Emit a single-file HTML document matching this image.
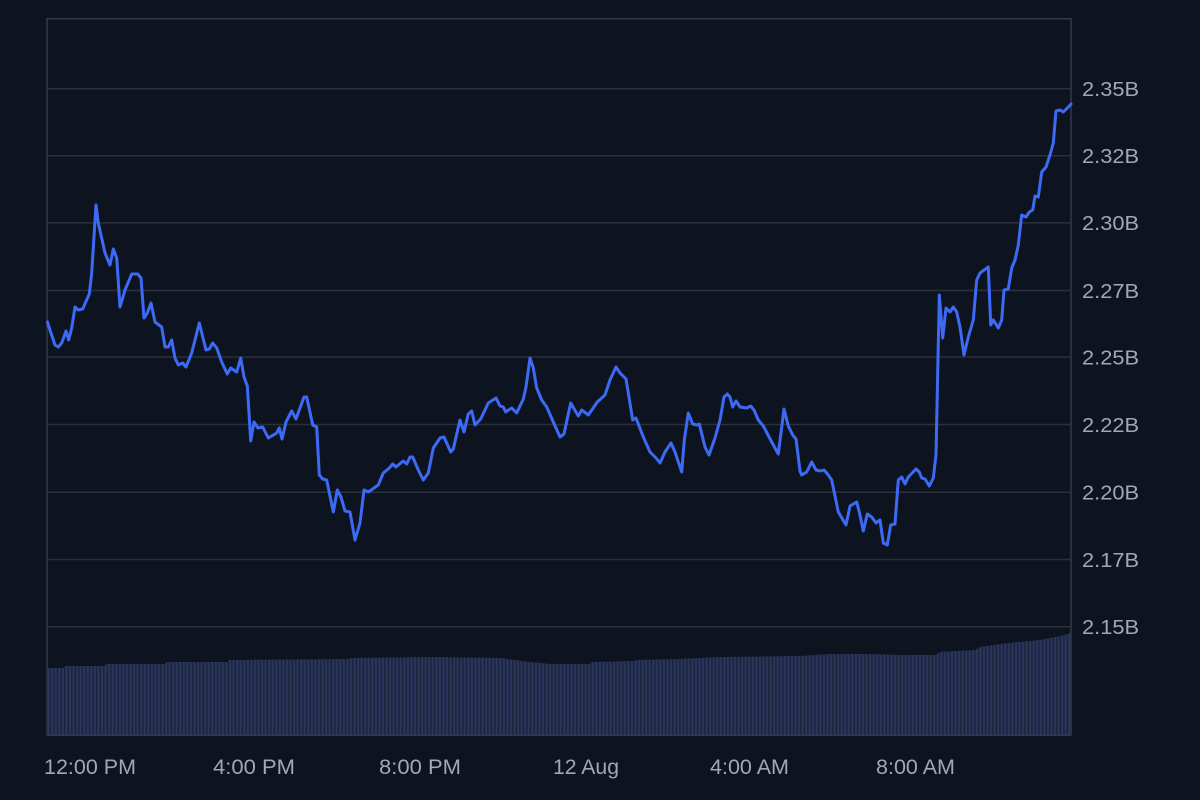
<!DOCTYPE html>
<html>
<head>
<meta charset="utf-8">
<style>
  html, body { margin:0; padding:0; background:#0d131f; }
  body { width:1200px; height:800px; overflow:hidden; }
  svg { display:block; }
  text { font-family:"Liberation Sans", Arial, sans-serif; fill:#a1a7b3; }
</style>
</head>
<body>
<svg width="1200" height="800" viewBox="0 0 1200 800" xmlns="http://www.w3.org/2000/svg">
  <defs>
    <pattern id="bars" patternUnits="userSpaceOnUse" x="47.5" y="0" width="3.556" height="800">
      <rect x="0" y="0" width="2.4" height="800" fill="#2a355c"/>
    </pattern>
  </defs>
  <rect x="0" y="0" width="1200" height="800" fill="#0d131f"/>

  <!-- gridlines -->
  <g stroke="#2a303d" stroke-width="1.5">
    <line x1="47" x2="1071" y1="88.7" y2="88.7"/>
    <line x1="47" x2="1071" y1="155.7" y2="155.7"/>
    <line x1="47" x2="1071" y1="222.9" y2="222.9"/>
    <line x1="47" x2="1071" y1="290.5" y2="290.5"/>
    <line x1="47" x2="1071" y1="357" y2="357"/>
    <line x1="47" x2="1071" y1="424.5" y2="424.5"/>
    <line x1="47" x2="1071" y1="492.3" y2="492.3"/>
    <line x1="47" x2="1071" y1="559.5" y2="559.5"/>
    <line x1="47" x2="1071" y1="626.7" y2="626.7"/>
  </g>

  <!-- volume bars -->
  <polygon fill="#182033" points="48,735 48,668 64,668 65,666 105,666 106,664 165,664 166,662 228,662 229,660 350,659 351,658 430,657 500,658 530,662 550,664 590,664 591,662 635,661 636,660 680,659 720,657 800,656 830,654 870,654 900,655 935,655 940,652 975,650 980,647 1000,644 1020,642 1040,640 1050,638 1060,636 1071,633 1071,735"/>
  <polygon fill="url(#bars)" points="48,735 48,668 64,668 65,666 105,666 106,664 165,664 166,662 228,662 229,660 350,659 351,658 430,657 500,658 530,662 550,664 590,664 591,662 635,661 636,660 680,659 720,657 800,656 830,654 870,654 900,655 935,655 940,652 975,650 980,647 1000,644 1020,642 1040,640 1050,638 1060,636 1071,633 1071,735"/>

  <!-- frame -->
  <g stroke="#333947" stroke-width="1.5" fill="none">
    <line x1="47" x2="1071" y1="18.7" y2="18.7"/>
    <line x1="47" x2="47" y1="18" y2="735.5"/>
    <line x1="1071" x2="1071" y1="18" y2="735.5"/>
    <line x1="47" x2="1071" y1="735.3" y2="735.3"/>
  </g>

  <!-- price line -->
  <polyline fill="none" stroke="#3d6af5" stroke-width="3" stroke-linejoin="round" stroke-linecap="round" points="
47.5,322 48.3,325 55,345 58.3,347 61.7,343 66,331 68.7,340 71.7,328 75,307 78.3,310 82.7,309 89.3,294 91.7,273 96,205 98.3,223 105,253 110,265 113.3,249 116.7,258 120,307 125,290 131.7,274 137.7,274 141,278 144,318 147.3,313 151,303 155,322 161.7,327 165,347 168.3,347 171.7,340 175,358 178.3,365 182.7,363 186,367 191.7,353 199.3,323 206,350 209.3,349 212.7,343 216.7,348 221.7,362 227.3,374 230.7,368 236.7,372 240.7,358 244,377 247.3,386 250.7,441 254,422 258,428 262.7,427 268.3,438 276.7,433 279.3,428 282,439 286,422 291.7,411 296,419 304,397 306.7,397 312.7,425 316.7,427 319.3,475 322.7,479 326.7,480 333.3,512 337.3,490 341,497 345,511 350,512 355,540 360,523 364,490 368.3,492 378.3,485 383.3,473 389.3,468 392.7,464 396,467 403.3,461 406.7,464 410,457 412.7,457 418.3,470 423.3,480 428.3,473 433.3,448 440,438 444,437 450.7,452 453.3,449 460,420 464,432 468.3,414 471.7,411 475,425 480.7,419 488.3,403 496,398 500,406 503.3,407 505.7,412 510,409 511.7,408 516.7,413 523.3,399 526,387 530,358 533.3,368 536.7,388 541.7,400 546.7,407 553.3,422 560,437 564,434 570.7,403 578.3,416 581.7,410 588.3,415 597.3,402 605,395 610,380 616,367 620,373 626,379 632.7,420 636,418 643.3,437 650,452 656,458 660,463 665,452 671,443 675,452 681.7,472 684.3,440 688.3,413 692.7,424 696.7,425 699.3,424 705,447 709,455 715,438 720,420 724,397 727.3,394 730,397 732.7,407 736,401 740,407 746.7,408 750.7,406 754,410 758.3,420 763.3,426 771.7,442 778.3,454 784,409 788.3,426 792.7,435 796,439 800,471 801.7,475 806.7,472 811.7,462 816,470 820.7,471 824,470 828.3,475 831.7,480 838.3,512 846,525 850,506 856.7,502 859.3,512 863.3,531 867.3,514 871.7,517 876,523 880,520 883.3,543 887.3,545 890.7,525 895,524 898.3,480 901.7,477 905,484 908.3,477 916,469 919.3,472 921.7,478 925,479 929.3,486 933.3,478 936,455 939.3,295 942.7,338 946,308 950,312 953.3,307 956.7,312 960,327 964,355 968.3,337 973.3,320 976.7,280 980,273 988.3,267 990.7,325 993.3,320 998.3,328 1001.7,320 1004,290 1008.3,289 1011.7,268 1015,260 1018.3,245 1021.7,215 1026,217 1029.3,212 1032.7,210 1035,196 1038.3,197 1041.7,172 1046,167 1050,155 1053.3,143 1056,111 1060,110 1063.3,112 1069.3,106 1071,104"/>

  <!-- y labels -->
  <g font-size="20">
    <text x="1082" y="96" textLength="57" lengthAdjust="spacingAndGlyphs">2.35B</text>
    <text x="1082" y="163" textLength="57" lengthAdjust="spacingAndGlyphs">2.32B</text>
    <text x="1082" y="230.2" textLength="57" lengthAdjust="spacingAndGlyphs">2.30B</text>
    <text x="1082" y="297.8" textLength="57" lengthAdjust="spacingAndGlyphs">2.27B</text>
    <text x="1082" y="364.3" textLength="57" lengthAdjust="spacingAndGlyphs">2.25B</text>
    <text x="1082" y="431.8" textLength="57" lengthAdjust="spacingAndGlyphs">2.22B</text>
    <text x="1082" y="499.6" textLength="57" lengthAdjust="spacingAndGlyphs">2.20B</text>
    <text x="1082" y="566.8" textLength="57" lengthAdjust="spacingAndGlyphs">2.17B</text>
    <text x="1082" y="634" textLength="57" lengthAdjust="spacingAndGlyphs">2.15B</text>
  </g>

  <!-- x labels -->
  <g font-size="21">
    <text x="44" y="774" textLength="92" lengthAdjust="spacingAndGlyphs">12:00 PM</text>
    <text x="213" y="774" textLength="82" lengthAdjust="spacingAndGlyphs">4:00 PM</text>
    <text x="379" y="774" textLength="82" lengthAdjust="spacingAndGlyphs">8:00 PM</text>
    <text x="553" y="774" textLength="66" lengthAdjust="spacingAndGlyphs">12 Aug</text>
    <text x="710" y="774" textLength="79" lengthAdjust="spacingAndGlyphs">4:00 AM</text>
    <text x="876" y="774" textLength="79" lengthAdjust="spacingAndGlyphs">8:00 AM</text>
  </g>
</svg>
</body>
</html>
